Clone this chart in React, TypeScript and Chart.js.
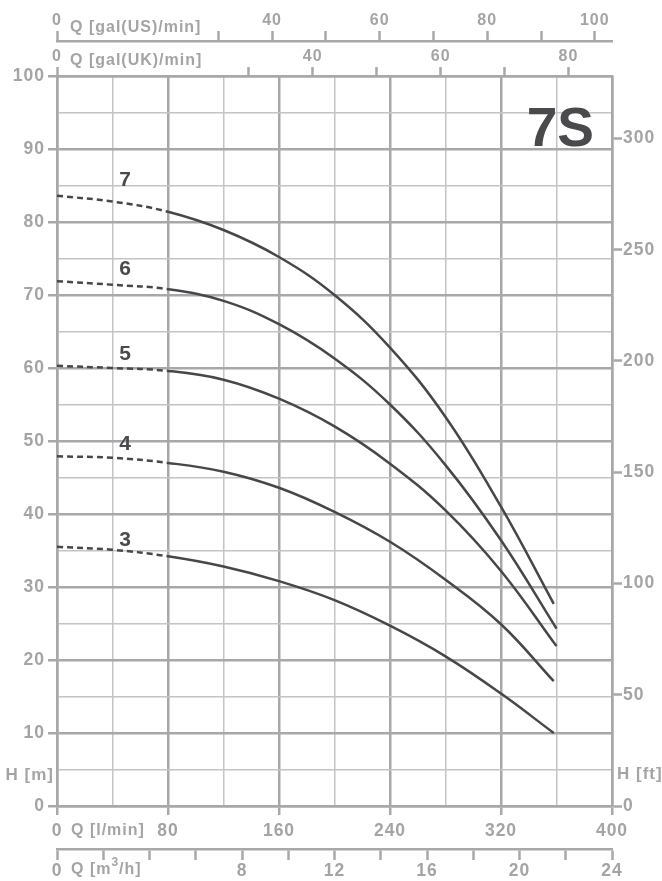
import React, { useEffect, useRef } from 'react';
import { Chart, registerables } from 'chart.js';

Chart.register(...registerables);

const FONT = '"Liberation Sans", Arial, Helvetica, sans-serif';
const LABEL_GRAY = '#a4a4a6';
const GRID_MAJOR = '#a8a8aa';
const GRID_MINOR = '#c4c4c6';
const CURVE = '#474749';
const TITLE_DARK = '#4a4a4c';

// Flow rates (l/min) at which the heads were read
const flowA = [0, 40, 80, 120, 160, 200, 240, 280, 320, 358];
const flowB = [0, 40, 80, 120, 160, 200, 240, 280, 320, 360];

// Head (m) per curve
const head3 = [35.5, 35.1, 34.2, 32.8, 30.8, 28.2, 24.7, 20.5, 15.4, 10.0];
const head4 = [47.9, 47.7, 47.0, 45.8, 43.6, 40.3, 36.2, 31.0, 24.9, 17.1];
const head5 = [60.3, 60.0, 59.6, 58.4, 55.8, 52.0, 46.9, 40.5, 32.2, 21.9];
const head6 = [71.9, 71.4, 70.8, 69.2, 66.0, 61.3, 55.0, 46.7, 36.4, 24.3];
const head7 = [83.6, 82.8, 81.4, 78.9, 75.2, 70.0, 62.8, 53.3, 41.0, 27.7];

const curveNames = ['3', '4', '5', '6', '7'];
const curveLabelFlow = 49;
const curveLabelHead = [36.4, 49.6, 61.9, 73.5, 85.7];
const dashedUpTo = 80;
const modelName = '7S';

// Axes
const lminTicks = [0, 40, 80, 120, 160, 200, 240, 280, 320, 360, 400];
const lminLabels = [0, 80, 160, 240, 320, 400];
const mTicks = [0, 5, 10, 15, 20, 25, 30, 35, 40, 45, 50, 55, 60, 65, 70, 75, 80, 85, 90, 95, 100];
const mLabels = [0, 10, 20, 30, 40, 50, 60, 70, 80, 90, 100];
const ftTicks = [0, 50, 100, 150, 200, 250, 300];
const usTicks = [0, 30, 40, 50, 60, 70, 80, 90, 100];
const usLabels = [0, 40, 60, 80, 100];
const ukTicks = [0, 30, 40, 50, 60, 70, 80];
const ukLabels = [0, 40, 60, 80];
const m3Ticks = [0, 2, 4, 6, 8, 10, 12, 14, 16, 18, 20, 22, 24];
const m3Labels = [0, 8, 12, 16, 20, 24];

const lminMax = 400;
const mMax = 100;
const ftMax = 328.084;
const usMax = 103.2;
const ukMax = 86.8;
const m3Max = 24;

const curveFlows = [flowA, flowA, flowB, flowB, flowA];
const heads = [head3, head4, head5, head6, head7];

const sideFont = { family: FONT, size: 17.5, weight: 'bold' as const };
const topFont = { family: FONT, size: 16, weight: 'bold' as const };

const setTicks = (values: number[]) => (scale: any) => {
  scale.ticks = values.map((v) => ({ value: v }));
};
const showIf = (values: number[]) => (v: any) => (values.includes(Number(v)) ? String(v) : '');
const isIn = (values: number[]) => (ctx: any) => values.includes(ctx.tick ? ctx.tick.value : NaN);

const textPlugin = {
  id: 'pumpTexts',
  beforeDraw(chart: any) {
    (chart.ctx as any).letterSpacing = '1px';
  },
  afterDraw(chart: any) {
    const { ctx, chartArea, scales } = chart;
    const c = ctx as any;
    ctx.save();
    c.letterSpacing = '1px';
    ctx.fillStyle = LABEL_GRAY;
    ctx.font = `bold 16px ${FONT}`;
    ctx.textBaseline = 'middle';
    ctx.textAlign = 'left';
    const left = chartArea.left;
    ctx.fillText('Q [gal(US)/min]', left + 13, scales.xUS.bottom - 13);
    ctx.fillText('Q [gal(UK)/min]', left + 13, scales.xUK.bottom - 15);
    ctx.fillText('Q [l/min]', left + 14, scales.x.top + 25);
    // Q [m3/h] with superscript
    const y3 = scales.m3.top + 21;
    let xx = left + 14;
    ctx.fillText('Q [m', xx, y3);
    xx += ctx.measureText('Q [m').width;
    ctx.font = `bold 12px ${FONT}`;
    ctx.fillText('3', xx, y3 - 7);
    xx += ctx.measureText('3').width;
    ctx.font = `bold 16px ${FONT}`;
    ctx.fillText('/h]', xx, y3);
    // H labels
    ctx.font = `bold 17px ${FONT}`;
    ctx.textAlign = 'right';
    ctx.fillText('H [m]', left - 3, chartArea.bottom - 31);
    ctx.textAlign = 'left';
    ctx.fillText('H [ft]', chartArea.right + 5, chartArea.bottom - 32);

    // Curve numbers
    ctx.fillStyle = TITLE_DARK;
    ctx.font = `bold 21px ${FONT}`;
    c.letterSpacing = '0px';
    ctx.textAlign = 'center';
    curveNames.forEach((n, i) => {
      ctx.fillText(n, scales.x.getPixelForValue(curveLabelFlow), scales.y.getPixelForValue(curveLabelHead[i]));
    });
    // Model name
    ctx.font = `bold 55px ${FONT}`;
    ctx.textAlign = 'right';
    ctx.textBaseline = 'alphabetic';
    ctx.fillText(modelName, chartArea.right - 18, scales.y.getPixelForValue(90) - 3);
    ctx.restore();
  },
};

export default function App() {
  const ref = useRef<HTMLCanvasElement | null>(null);

  useEffect(() => {
    if (!ref.current) return;
    const chart = new Chart(ref.current, {
      type: 'line',
      data: {
        datasets: heads.map((h, i) => ({
          label: curveNames[i],
          data: h.map((y, j) => ({ x: curveFlows[i][j], y })),
          borderColor: CURVE,
          borderWidth: 2.5,
          pointRadius: 0,
          fill: false,
          tension: 0.4,
          segment: {
            borderDash: (ctx: any) => (ctx.p1.parsed.x <= dashedUpTo ? [6, 4] : undefined),
          },
          xAxisID: 'x',
          yAxisID: 'y',
        })),
      },
      options: {
        animation: false,
        responsive: false,
        devicePixelRatio: 1,
        layout: { padding: 0 },
        plugins: { legend: { display: false }, tooltip: { enabled: false } },
        scales: {
          x: {
            type: 'linear',
            position: 'bottom',
            weight: 0,
            min: 0,
            max: lminMax,
            afterBuildTicks: setTicks(lminTicks),
            afterFit: (s: any) => { s.height = 43; },
            ticks: { autoSkip: false, maxRotation: 0, minRotation: 0, color: LABEL_GRAY, font: sideFont, padding: 6, callback: showIf(lminLabels) },
            grid: {
              color: (ctx: any) => (isIn(lminLabels)(ctx) ? GRID_MAJOR : GRID_MINOR),
              lineWidth: (ctx: any) => (isIn(lminLabels)(ctx) ? 2.5 : 1.5),
              tickColor: (ctx: any) => (isIn(lminLabels)(ctx) ? GRID_MAJOR : 'rgba(0,0,0,0)'),
              tickWidth: 2.5,
              tickLength: 9,
            },
            border: { color: GRID_MAJOR, width: 2.5 },
          },
          m3: {
            type: 'linear',
            position: 'bottom',
            weight: 1,
            min: 0,
            max: m3Max,
            afterBuildTicks: setTicks(m3Ticks),
            afterFit: (s: any) => { s.height = 32; },
            ticks: { autoSkip: false, maxRotation: 0, minRotation: 0, color: LABEL_GRAY, font: sideFont, padding: 1, callback: showIf(m3Labels) },
            grid: { drawOnChartArea: false, color: GRID_MAJOR, tickColor: GRID_MAJOR, tickWidth: 2.5, tickLength: 11 },
            border: { color: GRID_MAJOR, width: 2.5 },
          },
          xUK: {
            type: 'linear',
            position: 'top',
            weight: 0,
            min: 0,
            max: ukMax,
            afterBuildTicks: setTicks(ukTicks),
            afterFit: (s: any) => { s.height = 35; },
            ticks: { autoSkip: false, maxRotation: 0, minRotation: 0, color: LABEL_GRAY, font: topFont, padding: 1, callback: showIf(ukLabels) },
            grid: { drawOnChartArea: false, color: GRID_MAJOR, tickColor: GRID_MAJOR, tickWidth: 2.5, tickLength: 9 },
            border: { color: GRID_MAJOR, width: 2.5 },
          },
          xUS: {
            type: 'linear',
            position: 'top',
            weight: 1,
            min: 0,
            max: usMax,
            afterBuildTicks: setTicks(usTicks),
            afterFit: (s: any) => { s.height = 41; },
            ticks: { autoSkip: false, maxRotation: 0, minRotation: 0, color: LABEL_GRAY, font: topFont, padding: 1, callback: showIf(usLabels) },
            grid: { drawOnChartArea: false, color: GRID_MAJOR, tickColor: GRID_MAJOR, tickWidth: 2.5, tickLength: 10 },
            border: { color: GRID_MAJOR, width: 2.5 },
          },
          y: {
            type: 'linear',
            position: 'left',
            min: 0,
            max: mMax,
            afterBuildTicks: setTicks(mTicks),
            afterFit: (s: any) => { s.width = 57; },
            ticks: { autoSkip: false, color: LABEL_GRAY, font: sideFont, padding: 3, callback: showIf(mLabels) },
            grid: {
              color: (ctx: any) => (isIn(mLabels)(ctx) ? GRID_MAJOR : GRID_MINOR),
              lineWidth: (ctx: any) => (isIn(mLabels)(ctx) ? 2.5 : 1.5),
              tickColor: (ctx: any) => (isIn(mLabels)(ctx) ? GRID_MAJOR : 'rgba(0,0,0,0)'),
              tickWidth: 2.5,
              tickLength: 9,
            },
            border: { color: GRID_MAJOR, width: 2.5 },
          },
          y2: {
            type: 'linear',
            position: 'right',
            min: 0,
            max: ftMax,
            afterBuildTicks: setTicks(ftTicks),
            afterFit: (s: any) => { s.width = 50; },
            ticks: { autoSkip: false, color: LABEL_GRAY, font: sideFont, padding: 1, callback: (v: any) => String(v) },
            grid: { drawOnChartArea: false, color: GRID_MAJOR, tickColor: GRID_MAJOR, tickWidth: 2.5, tickLength: 10 },
            border: { color: GRID_MAJOR, width: 2.5 },
          },
        },
      } as any,
      plugins: [textPlugin],
    });
    return () => chart.destroy();
  }, []);

  return (
    <div style={{ position: 'absolute', left: 0, top: 0, width: 662, height: 881, background: '#fff' }}>
      <canvas ref={ref} width={662} height={881} style={{ display: 'block', width: 662, height: 881 }} />
    </div>
  );
}
